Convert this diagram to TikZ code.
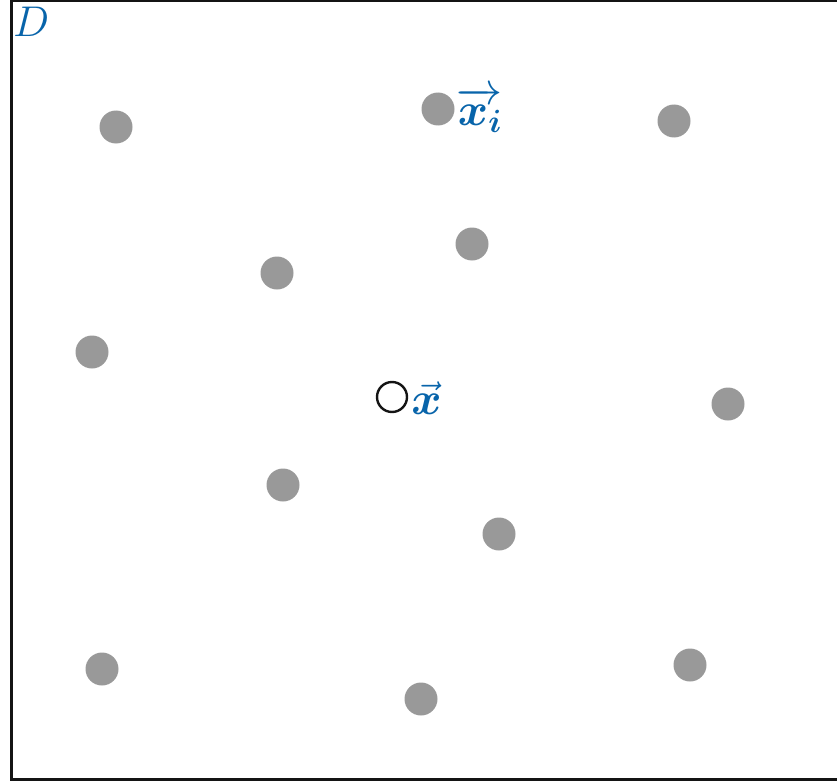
\RequirePackage{fix-cm}
\documentclass[tikz,border=0pt]{standalone}
\usepackage{amsmath,bm}
\usepackage{xcolor}
\usepackage{tikz}
\usetikzlibrary{positioning}
\definecolor{ink}{RGB}{20,20,20}
\definecolor{vecblue}{RGB}{8,100,170}
\definecolor{dotgray}{RGB}{153,153,153}
\tikzset{
  sample/.style={circle,fill=dotgray,minimum size=33pt,inner sep=0pt},
  query/.style={circle,draw=ink,line width=2.4pt,minimum size=30pt,inner sep=0pt},
  veclabel/.style={text=vecblue,font=\fontsize{46}{52}\selectfont,inner sep=0pt},
  frameline/.style={line width=2.6pt,draw=ink}
}
\begin{document}
\begin{tikzpicture}[x=1pt,y=-1pt]
  \useasboundingbox (0,0) rectangle (837,781);
  \draw[frameline] (11.5,1) rectangle (860,779.5);
  \node[veclabel,anchor=north west,font=\fontsize{43}{48}\selectfont] (dom) at (13,7) {$D$};
  % sample points
  \foreach \px/\py [count=\i] in {116/127,438/109,674/121,472/244,277/273,
      92/352,728/404,283/485,499/534,102/669,421/699,690/665}
    \node[sample] (s\i) at (\px,\py) {};
  \node[veclabel,right=2pt of s2,yshift=-1pt] (xi) {$\overrightarrow{\bm{x}_{\bm{i}}}$};
  \node[query] (q) at (392,397) {};
  \node[veclabel,right=3pt of q,yshift=-1pt] (xq) {$\vec{\bm{x}}$};
\end{tikzpicture}
\end{document}
